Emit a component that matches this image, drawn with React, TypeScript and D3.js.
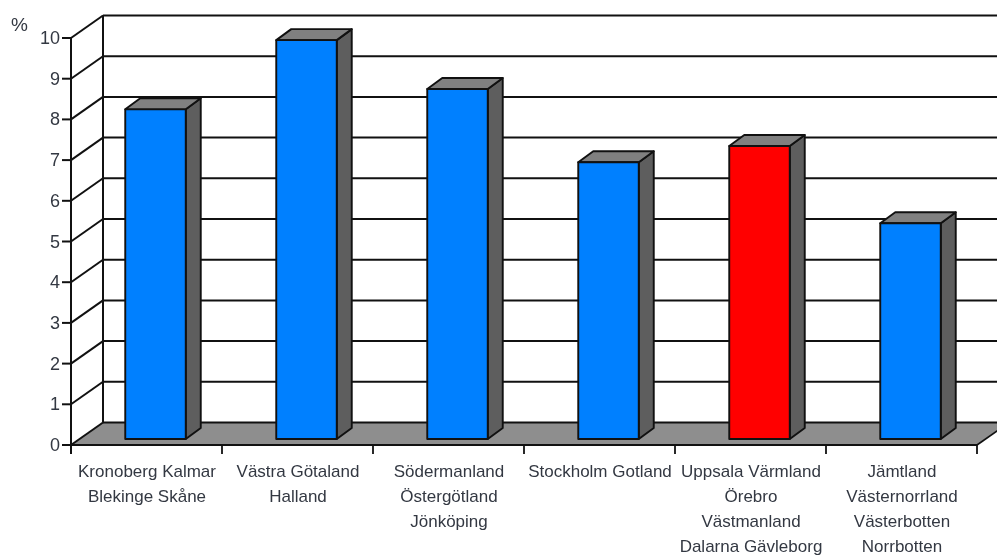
import React from "react";
import * as d3 from "d3";

const categories: string[][] = [
  ["Kronoberg Kalmar", "Blekinge Skåne"],
  ["Västra Götaland", "Halland"],
  ["Södermanland", "Östergötland", "Jönköping"],
  ["Stockholm Gotland"],
  ["Uppsala Värmland", "Örebro", "Västmanland", "Dalarna Gävleborg"],
  ["Jämtland", "Västernorrland", "Västerbotten", "Norrbotten"],
];
const values = [8.1, 9.8, 8.6, 6.8, 7.2, 5.3];
const highlighted = [false, false, false, false, true, false];
const yTicks = [0, 1, 2, 3, 4, 5, 6, 7, 8, 9, 10];

const W = 997, H = 556;
const x0 = 71, x1 = 977, y0 = 445, y10 = 38;
const dx = 32, dy = 22.5;
const barW = 60.5, bdx = 15, bdy = 11;

export default function App() {
  const y = d3.scaleLinear().domain([0, 10]).range([y0, y10]);
  const x = d3.scaleBand<number>().domain(d3.range(categories.length)).range([x0, x1]);
  const line = "#111";
  return (
    <svg width={W} height={H} viewBox={`0 0 ${W} ${H}`} style={{ position: "absolute", left: 0, top: 0, background: "#fff", filter: "blur(0.45px)" }}
      fontFamily="'Liberation Sans', Arial, sans-serif">
      <polygon points={`${x0},${y0} ${x0 + dx},${y0 - dy} ${x1 + dx},${y0 - dy} ${x1},${y0}`} fill="#8e8e8e" />
      {yTicks.map((t) => (
        <g key={t} stroke={line} strokeWidth={2} fill="none">
          <line x1={x0 + dx} x2={x1 + dx} y1={y(t) - dy} y2={y(t) - dy} />
          <line x1={x0} x2={x0 + dx} y1={y(t)} y2={y(t) - dy} />
          <line x1={x0 - 9} x2={x0} y1={y(t)} y2={y(t)} />
        </g>
      ))}
      <line x1={x0 + dx} x2={x0 + dx} y1={y(10) - dy} y2={y(0) - dy} stroke={line} strokeWidth={2} />
      <line x1={x0} x2={x0} y1={y(10)} y2={y(0) + 9} stroke={line} strokeWidth={2} />
      <line x1={x0} x2={x1} y1={y(0)} y2={y(0)} stroke={line} strokeWidth={2} />
      <line x1={x1} x2={x1 + dx} y1={y(0)} y2={y(0) - dy} stroke={line} strokeWidth={1.6} />
      {x.domain().concat([categories.length]).map((i) => {
        const tx = x0 + i * x.bandwidth();
        return <line key={i} x1={tx} x2={tx} y1={y(0)} y2={y(0) + 9} stroke={line} strokeWidth={1.8} />;
      })}
      {values.map((v, i) => {
        const bx = (x(i) as number) + (x.bandwidth() - barW) / 2 + 9;
        const by = y(v) - 6;
        const base = y(0) - 6;
        return (
          <g key={i} stroke="#111" strokeWidth={1.9} strokeLinejoin="round">
            <polygon points={`${bx + barW},${by} ${bx + barW + bdx},${by - bdy} ${bx + barW + bdx},${base - bdy} ${bx + barW},${base}`} fill="#5e5e5e" />
            <polygon points={`${bx},${by} ${bx + bdx},${by - bdy} ${bx + barW + bdx},${by - bdy} ${bx + barW},${by}`} fill="#808080" />
            <rect x={bx} y={by} width={barW} height={base - by} fill={highlighted[i] ? "#ff0000" : "#0080ff"} />
          </g>
        );
      })}
      <g fill="#333842">
        <text x={11} y={31} fontSize={19}>%</text>
        {yTicks.map((t) => (
          <text key={t} x={x0 - 11} y={y(t)} textAnchor="end" dominantBaseline="central" fontSize={18}>{t}</text>
        ))}
        {categories.map((lines, i) => (
          <text key={i} textAnchor="middle" fontSize={17}>
            {lines.map((l, j) => (
              <tspan key={j} x={(x(i) as number) + x.bandwidth() / 2 + 0.5} y={476.5 + j * 25.3}>{l}</tspan>
            ))}
          </text>
        ))}
      </g>
    </svg>
  );
}
